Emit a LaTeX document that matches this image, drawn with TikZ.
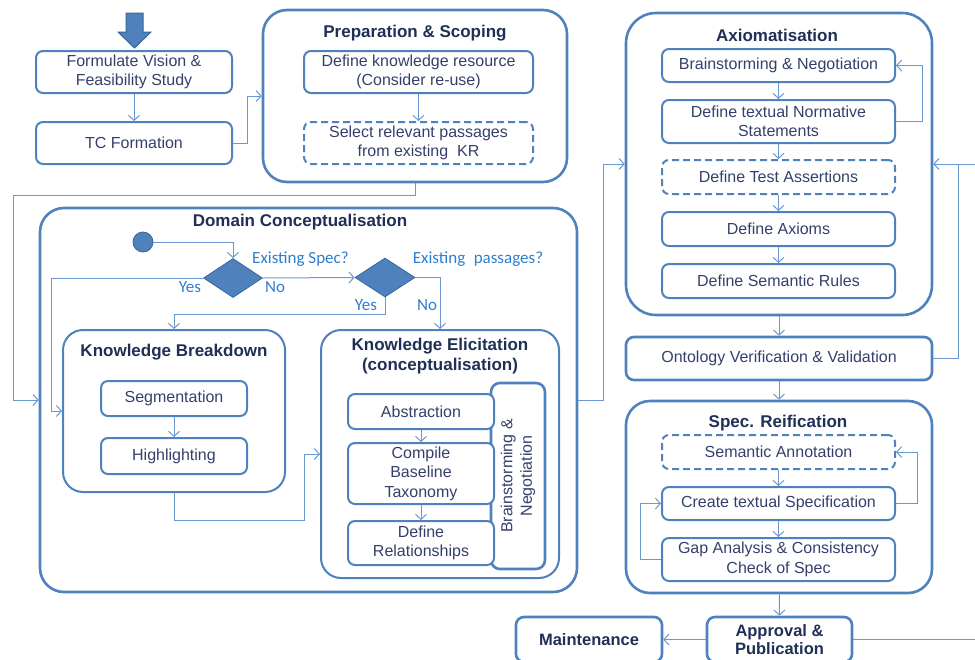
\documentclass[tikz,border=0pt]{standalone}
\usepackage{fontspec}
\setmainfont{Liberation Sans}
\newfontfamily\calib{Carlito}
\usetikzlibrary{arrows.meta,shapes.geometric}
\definecolor{bord}{HTML}{4F81BD}
\definecolor{lnk}{HTML}{6A97CF}
\definecolor{txt}{HTML}{34406B}
\definecolor{ttl}{HTML}{1F2F55}
\definecolor{lab}{HTML}{2F7DD0}
\definecolor{dfill}{HTML}{4F81BD}
\definecolor{dline}{HTML}{3A6799}
\begin{document}
\begin{tikzpicture}[x=1pt,y=-1pt,
 reg/.style={font=\fontsize{16}{19.5}\selectfont, text=txt, align=center},
 bigbox/.style={draw=bord, line width=2.6pt, rounded corners=24pt, inner sep=0pt},
 midbox/.style={draw=bord, line width=2pt, rounded corners=20pt, inner sep=0pt},
 sbox/.style={draw=bord, line width=2pt, rounded corners=7pt, inner sep=0pt, reg},
 bsbox/.style={draw=bord, line width=2.6pt, rounded corners=8pt, inner sep=0pt, reg},
 dbox/.style={sbox, dash pattern=on 7pt off 4pt},
 ttlf/.style={font=\bfseries\fontsize{17}{20}\selectfont, text=ttl, align=center},
 labf/.style={font=\calib\fontsize{17}{20}\selectfont, text=lab},
 conn/.style={draw=lnk, line width=1pt, -{Straight Barb[length=5pt,width=11pt]}},
 plain/.style={draw=lnk, line width=1pt},
 dia/.style={diamond, fill=dfill, draw=dline, line width=0.8pt, inner sep=0pt}]
\useasboundingbox (0,0) rectangle (975,659);
\clip (0,0) rectangle (975,659);

% ---------- top left ----------
\filldraw[fill=dfill, draw=dline, line width=1pt]
  (126,13) -- (143,13) -- (143,32) -- (151,32) -- (134.5,48) -- (118,32) -- (126,32) -- cycle;
\node[sbox, minimum width=196, minimum height=42] (fv) at (134,72) {Formulate Vision \&\\Feasibility Study};
\node[sbox, minimum width=196, minimum height=42] (tc) at (134,143) {TC Formation};

% ---------- Preparation ----------
\node[bigbox, minimum width=304, minimum height=172] (prep) at (415,96) {};
\node[ttlf] at (415,33) {Preparation \& Scoping};
\node[sbox, minimum width=229, minimum height=42] (dkr) at (418.5,72) {Define knowledge resource\\(Consider re-use)};
\node[dbox, minimum width=229, minimum height=42] (sel) at (418.5,143) {Select relevant passages\\from existing\ \ KR};

% ---------- Axiomatisation ----------
\node[bigbox, rounded corners=30pt, minimum width=306, minimum height=302] (ax) at (779,164) {};
\node[ttlf] at (777,35) {Axiomatisation};
\node[sbox, minimum width=233, minimum height=33] (bn) at (778.5,65.5) {Brainstorming \& Negotiation};
\node[sbox, minimum width=233, minimum height=43] (norm) at (778.5,121.5) {Define textual Normative\\Statements};
\node[dbox, minimum width=233, minimum height=34] (tas) at (778.5,177) {Define Test Assertions};
\node[sbox, minimum width=233, minimum height=34] (axm) at (778.5,229) {Define Axioms};
\node[sbox, minimum width=233, minimum height=34] (sem) at (778.5,281) {Define Semantic Rules};

% ---------- V&V ----------
\node[bsbox, minimum width=306, minimum height=43] (vv) at (779,358.5) {Ontology Verification \& Validation};

% ---------- Spec Reification ----------
\node[bigbox, minimum width=306, minimum height=192] (spec) at (779,497) {};
\node[ttlf] at (778,423) {Spec. Reification};
\node[dbox, minimum width=233, minimum height=34] (sa) at (778.5,452) {Semantic Annotation};
\node[sbox, minimum width=233, minimum height=33] (cts) at (778.5,503.5) {Create textual Specification};
\node[sbox, minimum width=233, minimum height=43] (gap) at (778.5,559.5) {Gap Analysis \& Consistency\\Check of Spec};

% ---------- bottom ----------
\node[bsbox, minimum width=145, minimum height=45, font=\bfseries\fontsize{16.5}{19.5}\selectfont, text=ttl] (appr) at (779.5,639.5) {Approval \&\\[-1pt]Publication};
\node[bsbox, minimum width=146, minimum height=45, font=\bfseries\fontsize{16.5}{19.5}\selectfont, text=ttl] (maint) at (589,639.5) {Maintenance};

% ---------- Domain Conceptualisation ----------
\node[bigbox, minimum width=537, minimum height=384] (dom) at (308.5,400) {};
\node[ttlf] at (300,222) {Domain Conceptualisation};
\node[circle, fill=dfill, draw=dline, line width=0.8pt, minimum size=20pt, inner sep=0pt] (start) at (143,242) {};
\node[dia, minimum width=59, minimum height=39] (d1) at (233,278) {};
\node[dia, minimum width=60, minimum height=39] (d2) at (385,277.5) {};
\node[labf] at (300.5,259) {Existing Spec?};
\node[labf] at (478,259) {Existing\hspace{0.5em}passages?};
\node[labf] at (190,287) {Yes};
\node[labf] at (275,287) {No};
\node[labf] at (366,305) {Yes};
\node[labf] at (427,305) {No};

\node[midbox, minimum width=222, minimum height=162] (kb) at (174,411) {};
\node[ttlf] at (174,352) {Knowledge Breakdown};
\node[sbox, minimum width=146, minimum height=35] (seg) at (174,398.5) {Segmentation};
\node[sbox, minimum width=146, minimum height=36] (hl) at (174,456) {Highlighting};

\node[midbox, minimum width=238, minimum height=248] (ke) at (440,454) {};
\node[ttlf] at (440,356) {Knowledge Elicitation\\(conceptualisation)};
\node[sbox, line width=2.6pt, rounded corners=9pt, rotate=90, minimum width=186, minimum height=54] (bnv) at (518,476) {Brainstorming \&\\Negotiation};
\node[sbox, fill=white, minimum width=146, minimum height=35] (abs) at (421,411.5) {Abstraction};
\node[sbox, fill=white, minimum width=146, minimum height=61] (comp) at (421,473.5) {Compile\\Baseline\\Taxonomy};
\node[sbox, fill=white, minimum width=146, minimum height=44] (rel) at (421,543) {Define\\Relationships};

% ---------- connectors ----------
\draw[conn] (fv) -- (tc);
\draw[conn] (tc.east) -- (247,143) |- (prep.west);
\draw[conn] (dkr) -- (sel);
\draw[conn] (prep.south) |- (13,195) |- (dom.west);

\draw[conn] (start.east) -| (d1.north);
\draw[conn] (d1.east) -- (d2.west);
\draw[conn] (d1.west) -- (51,278) |- (kb.west);
\draw[conn] (d2.south) -- (385,314) -| (kb.north);
\draw[conn] (d2.east) -| (ke.north);
\draw[conn] (seg) -- (hl);
\draw[conn] (kb.south) |- (304,520) |- (ke.west);
\draw[conn] (abs) -- (comp);
\draw[conn] (comp) -- (rel);

\draw[conn] (dom.east) -- (603,400) |- (ax.west);
\draw[conn] (bn) -- (norm);
\draw[conn] (norm) -- (tas);
\draw[conn] (tas) -- (axm);
\draw[conn] (axm) -- (sem);
\draw[conn] (norm.east) -- (922,121.5) |- (bn.east);

\draw[conn] (ax) -- (vv);
\draw[conn] (vv) -- (spec);
\draw[conn] (vv.east) -| (958,164) -- (ax.east);
\draw[plain] (958,164) -- (980,164);

\draw[conn] (sa) -- (cts);
\draw[conn] (cts) -- (gap);
\draw[conn] (cts.east) -- (917,503.5) |- (sa.east);
\draw[conn] (gap.west) -- (640,559.5) |- (cts.west);

\draw[conn] (spec) -- (appr);
\draw[conn] (appr) -- (maint);
\draw[plain] (appr.east) -- (980,639.5);
\end{tikzpicture}
\end{document}
